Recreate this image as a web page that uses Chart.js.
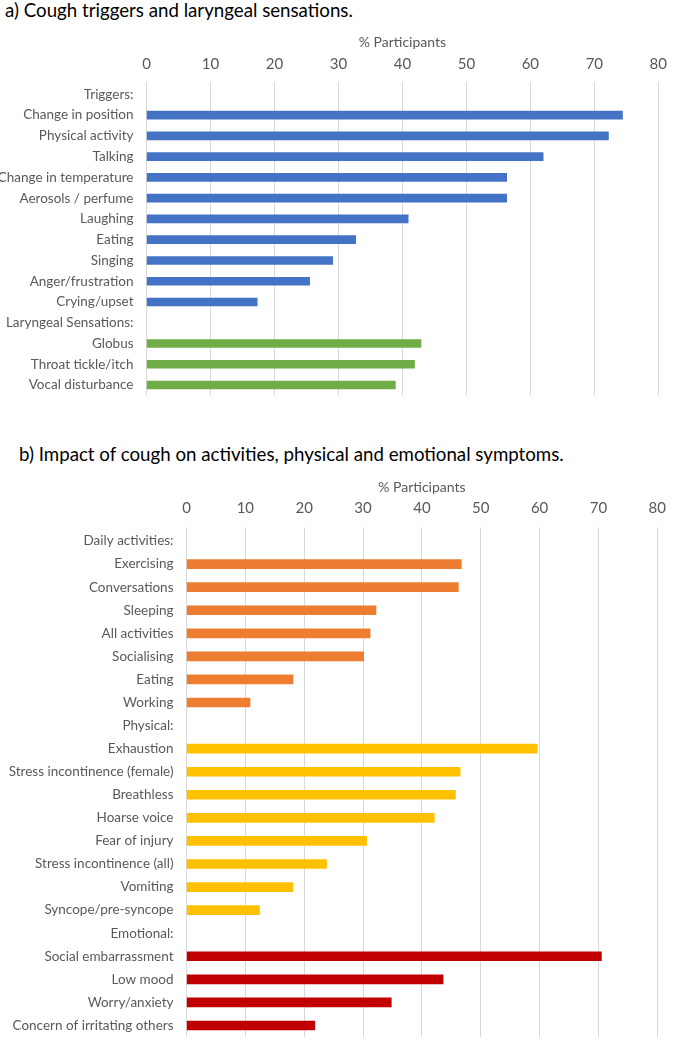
<!DOCTYPE html>
<html lang="en">
<head>
    <meta charset="UTF-8">
    <title>Cough triggers and impact</title>
    <script src="https://cdn.jsdelivr.net/npm/chart.js"></script>
    <style>
        body {
            margin: 0;
            background: #ffffff;
            font-family: Lato, sans-serif;
        }
        .heading {
            position: absolute;
            font-size: 18.7px;
            color: #000000;
            white-space: nowrap;
        }
        canvas {
            position: absolute;
            left: 0;
        }
    </style>
</head>
<body>
<div class="heading" id="headA" style="left:5px; top:-1px;">a) Cough triggers and laryngeal sensations.</div>
<canvas id="chartA" width="676" height="366" style="top:34px;"></canvas>
<div class="heading" id="headB" style="left:19px; top:443px;">b) Impact of cough on activities, physical and emotional symptoms.</div>
<canvas id="chartB" width="676" height="558" style="top:479px;"></canvas>
<script>
    // a) triggers and laryngeal sensations (% participants)
    const triggerLabels = ['Change in position', 'Physical activity', 'Talking', 'Change in temperature',
        'Aerosols / perfume', 'Laughing', 'Eating', 'Singing', 'Anger/frustration', 'Crying/upset'];
    const triggerValues = [74.4, 72.2, 62.0, 56.3, 56.3, 40.9, 32.7, 29.1, 25.5, 17.3];

    const laryngealLabels = ['Globus', 'Throat tickle/itch', 'Vocal disturbance'];
    const laryngealValues = [42.9, 41.9, 38.9];

    // b) impact of cough
    const dailyLabels = ['Exercising', 'Conversations', 'Sleeping', 'All activities', 'Socialising', 'Eating', 'Working'];
    const dailyValues = [46.7, 46.2, 32.2, 31.2, 30.1, 18.1, 10.8];

    const physicalLabels = ['Exhaustion', 'Stress incontinence (female)', 'Breathless', 'Hoarse voice',
        'Fear of injury', 'Stress incontinence (all)', 'Vomiting', 'Syncope/pre-syncope'];
    const physicalValues = [59.6, 46.5, 45.7, 42.1, 30.6, 23.8, 18.1, 12.4];

    const emotionalLabels = ['Social embarrassment', 'Low mood', 'Worry/anxiety', 'Concern of irritating others'];
    const emotionalValues = [70.5, 43.6, 34.8, 21.8];

    const xTicks = [0, 10, 20, 30, 40, 50, 60, 70, 80];

    const textColor = '#595959';
    const gridColor = '#d9d9d9';

    // stitch groups together with a header row (no bar) before each group
    function buildRows(groups) {
        const labels = [], values = [], colors = [];
        groups.forEach(g => {
            labels.push(g.header);
            values.push(null);
            colors.push(g.color);
            g.labels.forEach((l, i) => {
                labels.push(l);
                values.push(g.values[i]);
                colors.push(g.color);
            });
        });
        return {labels, values, colors};
    }

    function makeChart(id, rows, opts) {
        const ctx = document.getElementById(id).getContext('2d');
        return new Chart(ctx, {
            type: 'bar',
            data: {
                labels: rows.labels,
                datasets: [{
                    data: rows.values,
                    backgroundColor: rows.colors,
                    barThickness: opts.barThickness,
                    borderWidth: 0
                }]
            },
            options: {
                indexAxis: 'y',
                responsive: false,
                animation: false,
                devicePixelRatio: 1,
                layout: {
                    padding: {left: 0, right: opts.padRight, top: 0, bottom: opts.padBottom}
                },
                plugins: {
                    legend: {display: false},
                    tooltip: {enabled: false}
                },
                scales: {
                    x: {
                        position: 'top',
                        min: 0,
                        max: 80,
                        afterBuildTicks: scale => {
                            scale.ticks = xTicks.map(v => ({value: v}));
                        },
                        afterFit: scale => {
                            scale.height = opts.xHeight;
                        },
                        title: {
                            display: true,
                            text: '% Participants',
                            color: textColor,
                            font: {family: 'Lato', size: 14},
                            padding: 0
                        },
                        ticks: {
                            color: textColor,
                            font: {family: 'Lato', size: 15},
                            padding: opts.tickPad
                        },
                        grid: {
                            color: gridColor,
                            lineWidth: 1,
                            drawTicks: true,
                            tickLength: 2
                        },
                        border: {display: false}
                    },
                    y: {
                        afterFit: scale => {
                            scale.width = opts.yWidth;
                            scale.paddingTop = 0;
                            scale.paddingBottom = 0;
                        },
                        ticks: {
                            color: textColor,
                            font: {family: 'Lato', size: 13.5},
                            padding: 13,
                            autoSkip: false
                        },
                        grid: {display: false, drawTicks: false},
                        border: {display: false}
                    }
                }
            }
        });
    }

    const rowsA = buildRows([
        {header: 'Triggers:', labels: triggerLabels, values: triggerValues, color: '#4472c4'},
        {header: 'Laryngeal Sensations:', labels: laryngealLabels, values: laryngealValues, color: '#70ad47'}
    ]);
    const rowsB = buildRows([
        {header: 'Daily activities:', labels: dailyLabels, values: dailyValues, color: '#ed7d31'},
        {header: 'Physical:', labels: physicalLabels, values: physicalValues, color: '#ffc000'},
        {header: 'Emotional:', labels: emotionalLabels, values: emotionalValues, color: '#c00000'}
    ]);

    makeChart('chartA', rowsA, {barThickness: 8, padRight: 17, padBottom: 4.6, xHeight: 50, tickPad: 9, yWidth: 146.5});
    makeChart('chartB', rowsB, {barThickness: 9, padRight: 9, padBottom: 0, xHeight: 50.5, tickPad: 10, yWidth: 186.5});
</script>
</body>
</html>
